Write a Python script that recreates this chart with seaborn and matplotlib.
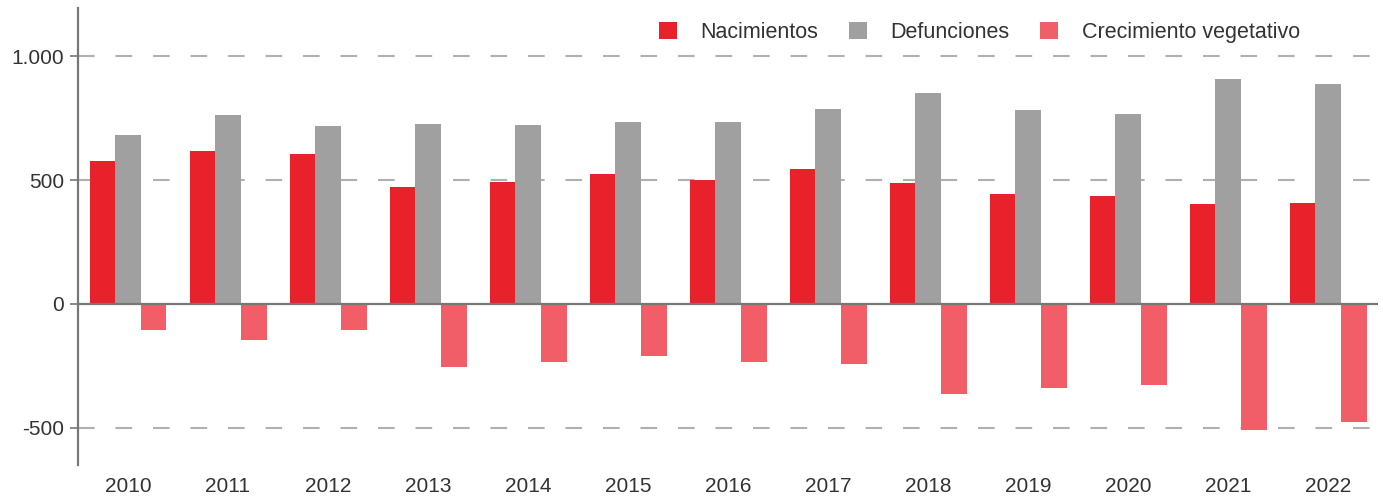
import matplotlib
matplotlib.use("Agg")
import matplotlib.pyplot as plt
from matplotlib.ticker import FuncFormatter
from matplotlib.patches import Patch
import seaborn as sns
import pandas as pd

years = ["2010", "2011", "2012", "2013", "2014", "2015", "2016",
         "2017", "2018", "2019", "2020", "2021", "2022"]
nacimientos = [577, 618, 607, 474, 493, 524, 501, 544, 490, 445, 434, 403, 407]
defunciones = [681, 762, 718, 726, 722, 736, 736, 788, 851, 783, 767, 908, 887]
crecimiento = [-105, -145, -105, -256, -235, -211, -234, -242, -362, -339, -329, -510, -477]
series_names = ["Nacimientos", "Defunciones", "Crecimiento vegetativo"]
colors = ["#e8212b", "#a0a0a0", "#f25e68"]
yticks = [-500, 0, 500, 1000]

df = pd.concat([
    pd.DataFrame({"year": years, "value": vals, "serie": name})
    for name, vals in zip(series_names, [nacimientos, defunciones, crecimiento])
], ignore_index=True)

sns.set_theme(style="white")
plt.rcParams["font.family"] = ["Liberation Sans", "DejaVu Sans"]

fig = plt.figure(figsize=(13.83, 5.0), dpi=100)
ax = fig.add_axes([78 / 1383, 1 - 465 / 500, 1300 / 1383, 457 / 500])

sns.barplot(data=df, x="year", y="value", hue="serie", hue_order=series_names,
            palette=colors, width=0.77, gap=0, saturation=1, ax=ax,
            legend=False, zorder=3, linewidth=0, edgecolor="none")

ax.set_xlim(-0.5, 12.5)
ax.set_ylim(-650, 1195)
ax.set_yticks(yticks)
ax.yaxis.set_major_formatter(FuncFormatter(lambda v, p: f"{int(v):,}".replace(",", ".")))

for v in yticks:
    if v == 0:
        ax.axhline(0, color="#777777", lw=1.6, zorder=4)
    else:
        ax.axhline(v, color="#b0b0b0", lw=1.5, ls=(0, (8, 10)), zorder=1)

for s in ["top", "right", "bottom"]:
    ax.spines[s].set_visible(False)
ax.spines["left"].set_color("#777777")
ax.spines["left"].set_linewidth(1.6)

ax.tick_params(axis="y", length=6, width=1.2, color="#777777", labelsize=15,
               labelcolor="#333333", left=True, pad=4)
ax.tick_params(axis="x", length=0, labelsize=15, labelcolor="#333333", pad=9)
ax.set_xlabel("")
ax.set_ylabel("")

handles = [Patch(facecolor=c, edgecolor="none") for c in colors]
ax.legend(handles, series_names, ncol=3, frameon=False, loc="center right",
          bbox_to_anchor=(0.94, 0.947), fontsize=15.5, handlelength=0.85,
          handleheight=0.85, handletextpad=1.1, columnspacing=1.4,
          borderpad=0, borderaxespad=0, labelcolor="#333333")

fig.savefig("out.png", dpi=100)
